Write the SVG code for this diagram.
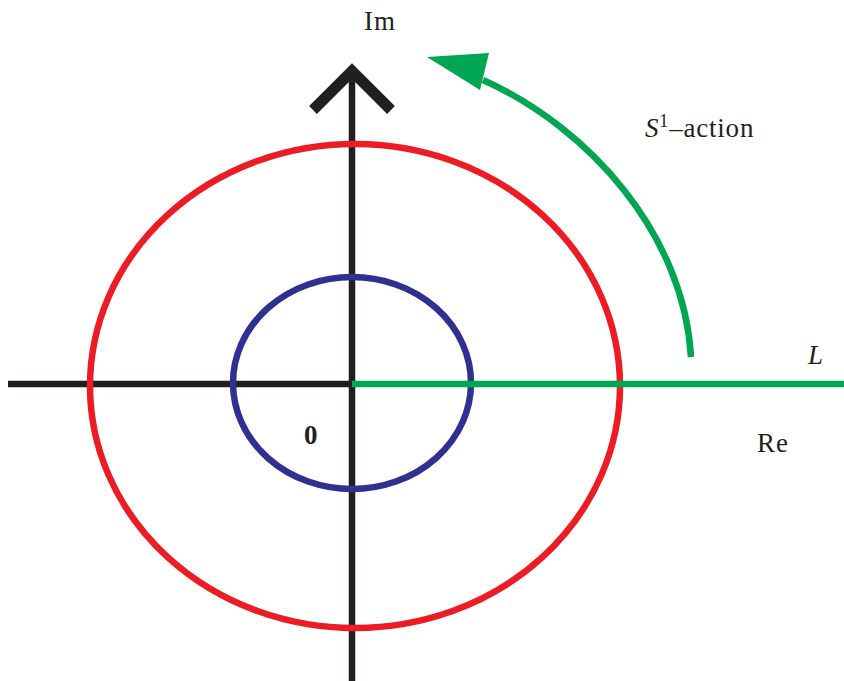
<svg xmlns="http://www.w3.org/2000/svg" width="844" height="681" viewBox="0 0 844 681">
<style>
.ax{stroke:#231f20;stroke-width:6.5;fill:none}
.t{font-family:"Liberation Serif","DejaVu Serif",serif;font-size:27px;fill:#231f20}
</style>
<rect width="844" height="681" fill="#fff"/>
<g id="axes">
<line class="ax" x1="8" y1="384" x2="352" y2="384"/>
<line class="ax" x1="352" y1="72" x2="352" y2="681"/>
<polyline points="313,110 352,71 391,110" fill="none" stroke="#231f20" stroke-width="11"/>
</g>
<g id="outer-circle"><ellipse cx="355" cy="386" rx="265" ry="242" fill="none" stroke="#ed1c24" stroke-width="6.5"/></g>
<g id="inner-circle"><ellipse cx="352" cy="383" rx="119" ry="106" fill="none" stroke="#2e3192" stroke-width="6.5"/></g>
<g id="connectors">
<line x1="352" y1="384" x2="844" y2="384" stroke="#00a651" stroke-width="6.5"/>
<path d="M691,357 C684,235 590,128 483,80" fill="none" stroke="#00a651" stroke-width="6.5"/>
<polygon points="427,57 489,53 480,90" fill="#00a651"/>
</g>
<g id="labels">
<text class="t" x="380" y="30" text-anchor="middle" letter-spacing="1">Im</text>
<text class="t" x="645" y="137" letter-spacing="0.8"><tspan font-style="italic">S</tspan><tspan font-size="18" dy="-10">1</tspan><tspan dy="10">–action</tspan></text>
<text class="t" x="808" y="364" font-style="italic">L</text>
<text class="t" x="757" y="452" letter-spacing="1">Re</text>
<text class="t" x="304" y="444" font-weight="bold">0</text>
</g>
</svg>
